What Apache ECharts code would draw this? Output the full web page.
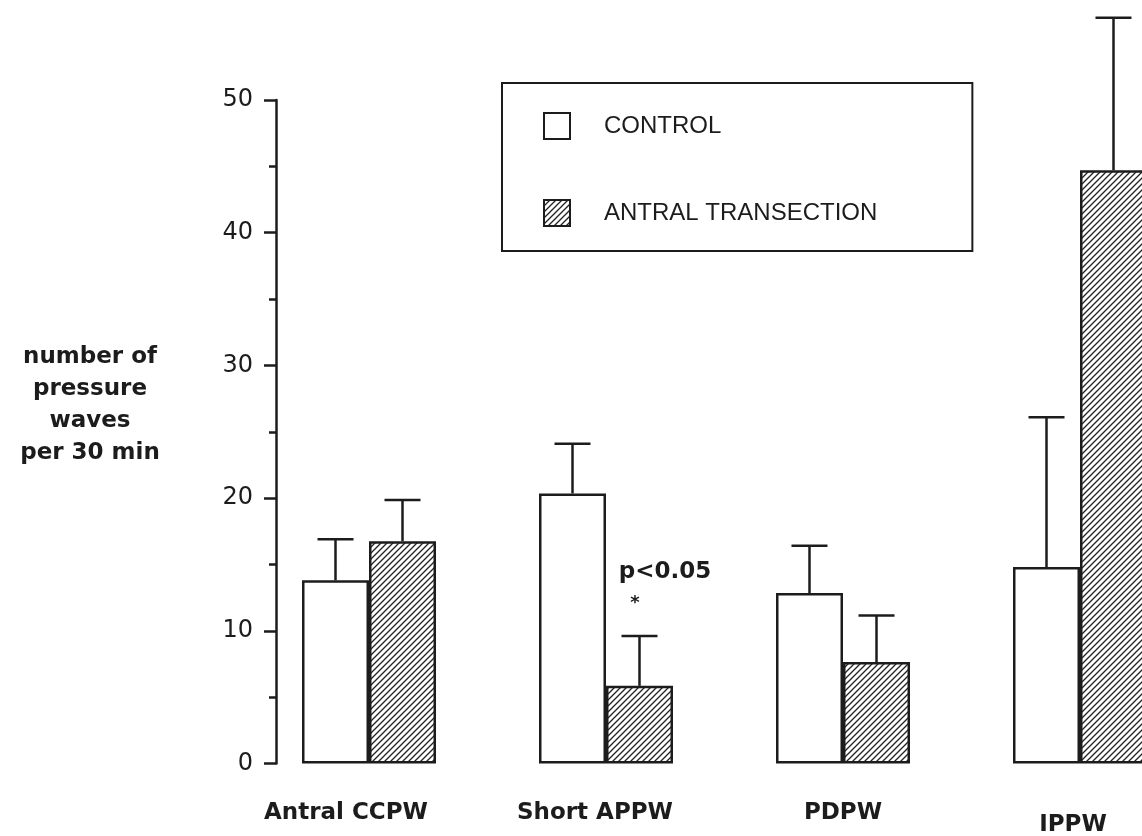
<!DOCTYPE html>
<html>
<head>
<meta charset="utf-8">
<script src="https://cdn.jsdelivr.net/npm/echarts@6/dist/echarts.min.js"></script>
<style>html,body{margin:0;padding:0;background:#fff}#c{width:1142px;height:836px}</style>
</head>
<body>
<div id="c"></div>
<script>
// ---- data ----
const categories = ['Antral CCPW', 'Short APPW', 'PDPW', 'IPPW'];
const controlMean = [13.8, 20.35, 12.85, 14.8];
const controlSEM = [3.1, 3.75, 3.55, 11.3];
const transectionMean = [16.75, 5.85, 7.65, 44.7];
const transectionSEM = [3.1, 3.75, 3.5, 11.5];
const seriesNames = ['CONTROL', 'ANTRAL TRANSECTION'];
const yTicks = [0, 10, 20, 30, 40, 50];
const annotationText = ['p<0.05', '*'];
const annotationCat = ['Short APPW', 'Short APPW'];
const annotationVal = [14.4, 12.1];
const yTitle = 'number of\npressure\nwaves\nper 30 min';

// ---- styles ----
const BAR_W = 67;
const INK = '#1c1c1c';
const labelShift = [46, 22, 0, 14];      // right padding to shift labels left
const labelDrop = [0, 0, 0, 12];         // top padding to drop labels
const annotOffset = [[59, 0], [29, 0]];
const annotFont = [23, 18];

function hatch() {
  const s = 6;
  const c = document.createElement('canvas');
  c.width = s; c.height = s;
  const g = c.getContext('2d');
  g.fillStyle = '#fff'; g.fillRect(0, 0, s, s);
  g.strokeStyle = '#222'; g.lineWidth = 1.3;
  g.beginPath();
  g.moveTo(0, s); g.lineTo(s, 0);
  g.moveTo(-2, 2); g.lineTo(2, -2);
  g.moveTo(s - 2, s + 2); g.lineTo(s + 2, s - 2);
  g.stroke();
  return c;
}
const hatchFill = { image: hatch(), repeat: 'repeat' };

function errSeries(means, sems, side) {
  return {
    type: 'custom',
    silent: true,
    z: 5,
    renderItem: function (params, api) {
      const i = api.value(0), v = api.value(1), e = api.value(2);
      const base = api.coord([i, v]);
      const top = api.coord([i, v + e]);
      const x = base[0] + side * BAR_W / 2;
      const st = { stroke: INK, lineWidth: 2.5 };
      return {
        type: 'group',
        children: [
          { type: 'line', shape: { x1: x, y1: base[1], x2: x, y2: top[1] }, style: st },
          { type: 'line', shape: { x1: x - 18, y1: top[1], x2: x + 18, y2: top[1] }, style: st }
        ]
      };
    },
    encode: { x: 0, y: 1 },
    data: means.map((m, i) => [i, m, sems[i]])
  };
}

const chart = echarts.init(document.getElementById('c'), null, { renderer: 'canvas' });
chart.setOption({
  animation: false,
  backgroundColor: '#fff',
  grid: { left: 250.5, top: 100, width: 948, bottom: 72.5, containLabel: false, outerBoundsMode: 'none' },
  graphic: [{
    type: 'text', left: 'auto', x: 90, y: 405, silent: true,
    style: {
      text: yTitle, x: 0, y: 0, align: 'center', verticalAlign: 'middle',
      fontFamily: 'DejaVu Sans', fontWeight: 'bold', fontSize: 23, lineHeight: 32, fill: INK
    }
  }],
  legend: {
    data: seriesNames,
    orient: 'vertical',
    left: 502, top: 83,
    icon: 'rect',
    itemWidth: 26, itemHeight: 26,
    itemGap: 59,
    padding: [29, 95, 24, 41],
    borderColor: INK, borderWidth: 2,
    backgroundColor: '#fff',
    selectedMode: false,
    formatter: n => '{a|' + n + '}',
    textStyle: {
      rich: { a: { fontFamily: 'Liberation Sans', fontSize: 24, color: INK, padding: [0, 0, 0, 29], lineHeight: 26 } }
    }
  },
  xAxis: {
    type: 'category',
    data: categories,
    axisLine: { show: false },
    axisTick: { show: false },
    axisLabel: {
      margin: 38,
      interval: 0,
      formatter: (v, i) => '{c' + i + '|' + v + '}',
      rich: Object.fromEntries(categories.map((c, i) => ['c' + i, {
        fontFamily: 'DejaVu Sans', fontWeight: 'bold', fontSize: 23, color: INK,
        padding: [labelDrop[i], labelShift[i], 0, 0]
      }]))
    }
  },
  yAxis: {
    type: 'value',
    min: 0, max: 50, interval: 10,
    offset: -25.5,
    axisLine: { show: true, lineStyle: { color: INK, width: 2.5 } },
    axisTick: { show: true, inside: false, length: 12, lineStyle: { color: INK, width: 2.5 } },
    minorTick: { show: true, splitNumber: 2, length: 7, lineStyle: { color: INK, width: 2.5 } },
    splitLine: { show: false },
    axisLabel: {
      margin: 23,
      fontFamily: 'DejaVu Sans', fontSize: 24, color: INK,
      formatter: v => (yTicks.indexOf(v) >= 0 ? String(v) : '')
    }
  },
  series: [
    {
      name: seriesNames[0], type: 'bar', data: controlMean,
      barWidth: BAR_W, barGap: '0%',
      itemStyle: { color: '#fff', borderColor: INK, borderWidth: 2.5 },
      z: 3
    },
    {
      name: seriesNames[1], type: 'bar', data: transectionMean,
      barWidth: BAR_W, barGap: '0%',
      itemStyle: { color: hatchFill, borderColor: INK, borderWidth: 2.5 },
      z: 3
    },
    errSeries(controlMean, controlSEM, -1),
    errSeries(transectionMean, transectionSEM, 1),
    {
      type: 'scatter', silent: true, symbolSize: 0, z: 6,
      itemStyle: { opacity: 1 },
      data: annotationText.map((t, i) => ({
        value: [annotationCat[i], annotationVal[i]],
        label: {
          show: true, position: 'inside', formatter: t, offset: annotOffset[i],
          fontFamily: 'DejaVu Sans', fontWeight: 'bold', fontSize: annotFont[i], color: INK, opacity: 1
        }
      }))
    }
  ]
});
</script>
</body>
</html>
